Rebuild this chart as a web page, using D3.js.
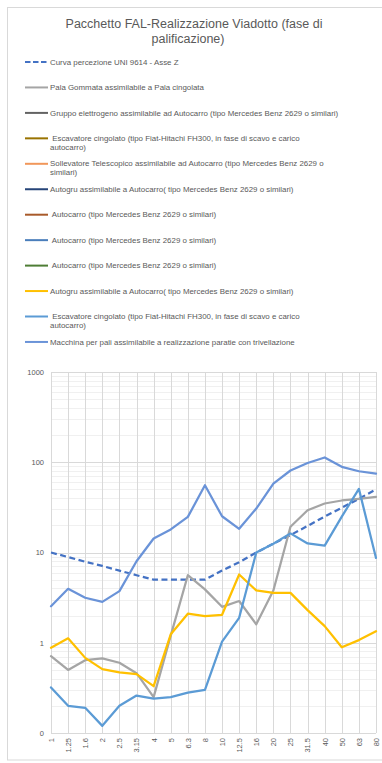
<!DOCTYPE html>
<html>
<head>
<meta charset="utf-8">
<script src="https://cdn.jsdelivr.net/npm/d3@7/dist/d3.min.js"></script>
<style>
  html, body { margin: 0; padding: 0; background: #ffffff; }
  svg { display: block; font-family: "Liberation Sans", Arial, sans-serif; }
</style>
</head>
<body>
<svg id="chart" width="382" height="763"></svg>
<script>
// Third-octave band centre frequencies (Hz)
const freqLabels = ["1","1.25","1.6","2","2.5","3.15","4","5","6.3","8","10","12.5","16","20","25","31.5","40","50","63","80"];

// UNI 9614 perception threshold, Z axis (mm/s²)
const curvaUNI = [10, 8.9, 7.9, 7.1, 6.3, 5.6, 5, 5, 5, 5, 6.3, 7.8, 10, 12.5, 15.6, 19.7, 25, 31.3, 39.4, 50];

// Machine spectra (mm/s²)
const palaGommata = [0.71, 0.50, 0.64, 0.67, 0.60, 0.46, 0.25, 1.2, 5.6, 3.9, 2.5, 2.9, 1.6, 3.8, 19.3, 29.4, 34.9, 37.7, 39.4, 41.4];
const gruppoElettrogeno = [];
const escavatoreCarico = [];
const sollevatore = [];
const autogruBlu = [];
const autocarroA = [];
const autocarroB = [];
const autocarroC = [];
const autogru = [0.88, 1.12, 0.68, 0.51, 0.47, 0.45, 0.33, 1.24, 2.1, 1.97, 2.04, 5.7, 3.8, 3.57, 3.57, 2.3, 1.53, 0.89, 1.07, 1.34];
const escavatoreCingolato = [0.32, 0.20, 0.19, 0.12, 0.20, 0.26, 0.24, 0.25, 0.28, 0.30, 1.03, 1.89, 10, 12.5, 16.3, 12.6, 11.9, 25, 50.7, 8.7];
const macchinaPali = [2.54, 3.96, 3.15, 2.84, 3.73, 8.0, 14.3, 18, 24.8, 55.6, 25.2, 18.3, 30.7, 58, 81, 98, 113, 89, 79.5, 75];

// Y axis ticks
const yTicks = [0.1, 1, 10, 100, 1000];
const yTickLabels = ["0", "1", "10", "100", "1000"];

// Series definitions: legend text lines, colour, data, dashed
const series = [
  { lines: ["Curva percezione UNI 9614 - Asse Z"], color: "#4472C4", data: curvaUNI, dashed: true },
  { lines: ["Pala Gommata assimilabile a Pala cingolata"], color: "#A5A5A5", data: palaGommata },
  { lines: ["Gruppo elettrogeno assimilabile ad Autocarro (tipo Mercedes Benz 2629 o similari)"], color: "#636363", data: gruppoElettrogeno },
  { lines: [" Escavatore cingolato (tipo Fiat-Hitachi FH300, in fase di scavo e carico", "autocarro)"], color: "#997300", data: escavatoreCarico },
  { lines: ["Sollevatore Telescopico assimilabile ad Autocarro (tipo Mercedes Benz 2629 o", "similari)"], color: "#F1975A", data: sollevatore },
  { lines: ["Autogru assimilabile a Autocarro( tipo Mercedes Benz 2629 o similari)"], color: "#264478", data: autogruBlu },
  { lines: [" Autocarro (tipo Mercedes Benz 2629 o similari)"], color: "#A85A2A", data: autocarroA },
  { lines: [" Autocarro (tipo Mercedes Benz 2629 o similari)"], color: "#4A7EBB", data: autocarroB },
  { lines: [" Autocarro (tipo Mercedes Benz 2629 o similari)"], color: "#4E7D35", data: autocarroC },
  { lines: ["Autogru assimilabile a Autocarro( tipo Mercedes Benz 2629 o similari)"], color: "#FFC000", data: autogru },
  { lines: [" Escavatore cingolato (tipo Fiat-Hitachi FH300, in fase di scavo e carico", "autocarro)"], color: "#5B9BD5", data: escavatoreCingolato },
  { lines: ["Macchina per pali assimilabile a realizzazione paratie con trivellazione"], color: "#6A93D8", data: macchinaPali }
];

const svg = d3.select("#chart");
const textColor = "#595959";

// Chart frame
svg.append("rect")
  .attr("x", 7.5).attr("y", 7.5)
  .attr("width", 380).attr("height", 752.5)
  .attr("fill", "#ffffff").attr("stroke", "#d9d9d9").attr("stroke-width", 1);

// Title
const title = svg.append("text")
  .attr("x", 193).attr("y", 28)
  .attr("text-anchor", "middle")
  .attr("fill", textColor)
  .style("font-size", "12.5px");
title.append("tspan").attr("x", 194).attr("dy", 0).text("Pacchetto FAL-Realizzazione Viadotto (fase di");
title.append("tspan").attr("x", 188).attr("dy", 14.5).text("palificazione)");

// Legend
const legend = svg.append("g");
series.forEach((s, i) => {
  const y = 62 + i * 25.45;
  const g = legend.append("g");
  g.append("line")
    .attr("x1", 25).attr("x2", 48)
    .attr("y1", y).attr("y2", y)
    .attr("stroke", s.color)
    .attr("stroke-width", 2)
    .attr("stroke-dasharray", s.dashed ? "5.5,2.5" : null);
  const t = g.append("text")
    .attr("x", 50).attr("y", y + 2.6)
    .attr("fill", textColor)
    .style("font-size", "7.9px")
    .style("white-space", "pre");
  s.lines.forEach((ln, k) => {
    t.append("tspan")
      .attr("x", 50)
      .attr("dy", k === 0 ? 0 : 9)
      .attr("xml:space", "preserve")
      .text(ln);
  });
});

// Plot area
const plot = { left: 51, right: 376, top: 372, bottom: 733 };

const x = d3.scalePoint()
  .domain(freqLabels)
  .range([plot.left, plot.right]);

const y = d3.scaleLog()
  .domain([0.1, 1000])
  .range([plot.bottom, plot.top]);

// Minor horizontal grid (2..9 of each decade)
const minor = [];
for (let dec = 0.1; dec < 1000; dec *= 10) {
  for (let m = 2; m <= 9; m++) minor.push(+(dec * m).toPrecision(3));
}
svg.append("g").selectAll("line").data(minor).join("line")
  .attr("x1", plot.left).attr("x2", plot.right)
  .attr("y1", d => Math.round(y(d)) + 0.5).attr("y2", d => Math.round(y(d)) + 0.5)
  .attr("stroke", "#f0f0f0").attr("stroke-width", 1);

// Major horizontal grid
svg.append("g").selectAll("line").data(yTicks).join("line")
  .attr("x1", plot.left).attr("x2", plot.right)
  .attr("y1", d => Math.round(y(d)) + 0.5).attr("y2", d => Math.round(y(d)) + 0.5)
  .attr("stroke", "#d9d9d9").attr("stroke-width", 1);

// Vertical grid at each band
svg.append("g").selectAll("line").data(freqLabels).join("line")
  .attr("x1", d => Math.round(x(d)) + 0.5).attr("x2", d => Math.round(x(d)) + 0.5)
  .attr("y1", plot.top).attr("y2", plot.bottom)
  .attr("stroke", "#d9d9d9").attr("stroke-width", 1);

// Y axis labels
const yAxis = d3.axisLeft(y)
  .tickValues(yTicks)
  .tickFormat((d, i) => yTickLabels[i])
  .tickSize(0)
  .tickPadding(7);
const gy = svg.append("g")
  .attr("transform", `translate(${plot.left},0)`)
  .call(yAxis);
gy.select(".domain").remove();
gy.selectAll("text")
  .attr("fill", textColor)
  .style("font-size", "7.5px")
  .style("font-family", "'Liberation Sans', Arial, sans-serif");

// X axis labels (rotated)
const xAxis = d3.axisBottom(x).tickSize(0).tickPadding(0);
const gx = svg.append("g")
  .attr("transform", `translate(0,${plot.bottom})`)
  .call(xAxis);
gx.select(".domain").remove();
gx.selectAll("text")
  .attr("fill", textColor)
  .style("font-size", "7.5px")
  .style("font-family", "'Liberation Sans', Arial, sans-serif")
  .attr("text-anchor", "end")
  .attr("dy", "0.32em")
  .attr("transform", "translate(0,5) rotate(-90)")
  .attr("x", 0).attr("y", 0);

// Series lines
const line = d3.line()
  .x((d, i) => x(freqLabels[i]))
  .y(d => y(d));

series.forEach(s => {
  if (!s.data.length) return;
  svg.append("path")
    .datum(s.data)
    .attr("d", line)
    .attr("fill", "none")
    .attr("stroke", s.color)
    .attr("stroke-width", 2.25)
    .attr("stroke-linejoin", "round")
    .attr("stroke-linecap", s.dashed ? "butt" : "round")
    .attr("stroke-dasharray", s.dashed ? "6,3.5" : null);
});
</script>
</body>
</html>
